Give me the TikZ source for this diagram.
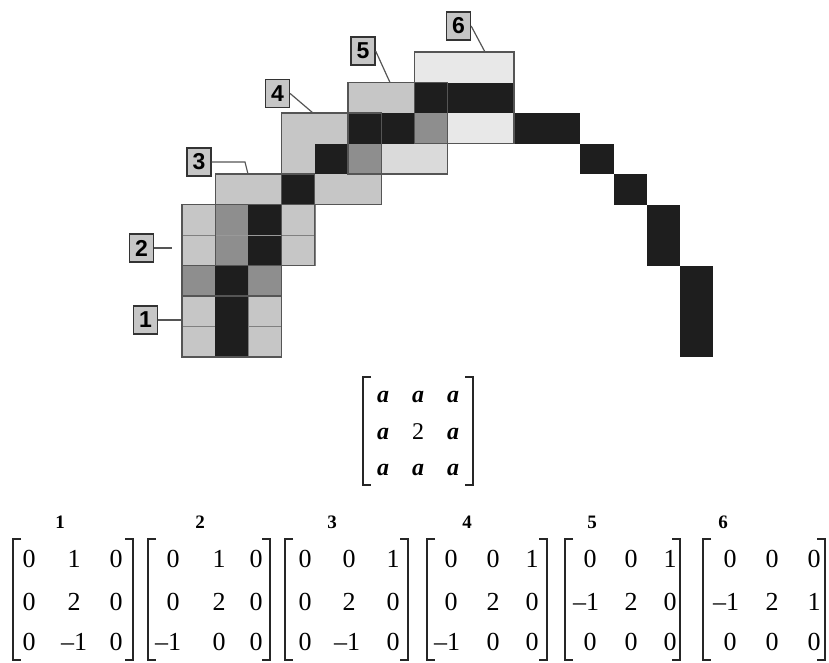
\documentclass[tikz,border=0pt]{standalone}
\usepackage{fontspec}
\setmainfont{Liberation Serif}
\newfontfamily\lblfont{Liberation Sans}
\definecolor{blk}{HTML}{1E1E1E}
\definecolor{lgt}{HTML}{C6C6C6}
\definecolor{med}{HTML}{8E8E8E}
\definecolor{llt}{HTML}{DADADA}
\definecolor{vlt}{HTML}{E8E8E8}
\definecolor{edge}{HTML}{555555}
\newcommand\matrowx[9]{%
 \node[ent] (m#1-#2-1) at (#4,#3) {#7};
 \node[ent] (m#1-#2-2) at (#5,#3) {#8};
 \node[ent] (m#1-#2-3) at (#6,#3) {#9};}
\newcommand\matbrk[4]{%
 \draw[brk] ({#1+8},#3) -- (#1,#3) -- (#1,#4) -- ({#1+8},#4);
 \draw[brk] ({#2-8},#3) -- (#2,#3) -- (#2,#4) -- ({#2-8},#4);}
\begin{document}
\begin{tikzpicture}[x=1pt,y=-1pt,
  cellc/.style={draw=edge!75, line width=0.5pt},
  win/.style={draw=edge, line width=1.3pt},
  conn/.style={draw=edge, line width=1.2pt},
  lbl/.style={draw=edge!60!black, line width=1.3pt, fill=lgt, minimum width=24pt, minimum height=28pt, inner sep=0pt, font=\lblfont\bfseries\fontsize{23}{23}\selectfont},
  ent/.style={anchor=base, inner sep=0pt, font=\fontsize{26}{26}\selectfont},
  hdr/.style={anchor=base, inner sep=0pt, font=\bfseries\fontsize{19}{19}\selectfont},
  brk/.style={draw=black!85, line width=1.5pt}]
\useasboundingbox (0,0) rectangle (829,662);
% gray cells, lower part (with cell lines)
\foreach \i/\j/\c in {0/0/lgt,2/0/lgt,0/1/lgt,2/1/lgt,0/2/med,2/2/med,0/3/lgt,1/3/med,3/3/lgt,0/4/lgt,1/4/med,3/4/lgt}
  \path[cellc, fill=\c] ({182+33.2*\i},{357-30.5*\j}) rectangle ({182+33.2*(\i+1)},{357-30.5*(\j+1)});
% gray cells, upper part (no cell lines)
\foreach \i/\j/\c in {1/5/lgt,2/5/lgt,4/5/lgt,5/5/lgt,3/6/lgt,5/6/med,6/6/llt,7/6/llt,3/7/lgt,4/7/lgt,7/7/med,8/7/vlt,9/7/vlt,5/8/lgt,6/8/lgt,7/9/vlt,8/9/vlt,9/9/vlt}
  \fill[\c] ({182+33.2*\i},{357-30.5*\j}) rectangle ({182+33.2*(\i+1)},{357-30.5*(\j+1)});
% curve pixels
\foreach \i/\j in {1/0,1/1,1/2,2/3,2/4,3/5,4/6,5/7,6/7,7/8,8/8,9/8,10/7,11/7,12/6,13/5,14/4,14/3,15/2,15/1,15/0}
  \fill[blk] ({182+33.2*\i},{357-30.5*\j}) rectangle ({182+33.2*(\i+1)},{357-30.5*(\j+1)});
\draw[edge!60, line width=0.7pt] ({182+33.2},{357-30.5*4}) -- ({182+33.2*3},{357-30.5*4});
% windows
\foreach \i/\j in {0/0,0/2,1/3,3/5,5/6,7/7}
  \draw[win] ({182+33.2*\i},{357-30.5*\j}) rectangle ({182+33.2*(\i+3)},{357-30.5*(\j+3)});
% labels
\node[lbl] (l1) at (145.5,320) {1};
\node[lbl] (l2) at (141.5,248) {2};
\node[lbl] (l3) at (199,162) {3};
\node[lbl] (l4) at (277.5,93.5) {4};
\node[lbl] (l5) at (363,51) {5};
\node[lbl] (l6) at (458.5,26) {6};
\coordinate (w1) at (182,320);
\coordinate (w2) at (172,248);
\coordinate (w3a) at (245,162);
\coordinate (w3) at (248,174);
\coordinate (w4) at (313,113);
\coordinate (w5) at (390,82.5);
\coordinate (w6) at (485,52);
\draw[conn] (l1.east) -- (w1);
\draw[conn] (l2.east) -- (w2);
\draw[conn] (l3.east) -- (w3a) -- (w3);
\draw[conn] (l4.east) -- (w4);
\draw[conn] (l5.east) -- (w5);
\draw[conn] (l6.east) -- (w6);
% template matrix
\matbrk{363}{473}{377}{485}
\begin{scope}[ent/.append style={font=\fontsize{24}{24}\selectfont}]
\matrowx{0}{1}{402}{383}{418}{453}{\textbf{\textit{a}}}{\textbf{\textit{a}}}{\textbf{\textit{a}}}
\matrowx{0}{2}{439}{383}{418}{453}{\textbf{\textit{a}}}{2}{\textbf{\textit{a}}}
\matrowx{0}{3}{475}{383}{418}{453}{\textbf{\textit{a}}}{\textbf{\textit{a}}}{\textbf{\textit{a}}}
\end{scope}
% matrices 1-6
\node[hdr] (h1) at (60,528) {1};
\node[hdr] (h2) at (200,528) {2};
\node[hdr] (h3) at (332,528) {3};
\node[hdr] (h4) at (467,528) {4};
\node[hdr] (h5) at (592,528) {5};
\node[hdr] (h6) at (723,528) {6};
\matbrk{13}{133}{539}{660}
\matrowx{1}{1}{567}{29}{74}{116}{0}{1}{0}
\matrowx{1}{2}{610}{29}{74}{116}{0}{2}{0}
\matrowx{1}{3}{650}{29}{74}{116}{0}{\textendash1}{0}
\matbrk{148}{270}{539}{660}
\matrowx{2}{1}{567}{173}{219}{256}{0}{1}{0}
\matrowx{2}{2}{610}{173}{219}{256}{0}{2}{0}
\matrowx{2}{3}{650}{168}{219}{256}{\textendash1}{0}{0}
\matbrk{285}{408}{539}{660}
\matrowx{3}{1}{567}{305}{349}{393}{0}{0}{1}
\matrowx{3}{2}{610}{305}{349}{393}{0}{2}{0}
\matrowx{3}{3}{650}{305}{347}{393}{0}{\textendash1}{0}
\matbrk{427}{547}{539}{660}
\matrowx{4}{1}{567}{451}{493}{532}{0}{0}{1}
\matrowx{4}{2}{610}{451}{493}{532}{0}{2}{0}
\matrowx{4}{3}{650}{447}{493}{532}{\textendash1}{0}{0}
\matbrk{565}{680}{539}{660}
\matrowx{5}{1}{567}{590}{631}{670}{0}{0}{1}
\matrowx{5}{2}{610}{586}{631}{670}{\textendash1}{2}{0}
\matrowx{5}{3}{650}{590}{631}{670}{0}{0}{0}
\matbrk{703}{825}{539}{660}
\matrowx{6}{1}{567}{730}{772}{814}{0}{0}{0}
\matrowx{6}{2}{610}{726}{772}{814}{\textendash1}{2}{1}
\matrowx{6}{3}{650}{730}{772}{814}{0}{0}{0}
\end{tikzpicture}
\end{document}
